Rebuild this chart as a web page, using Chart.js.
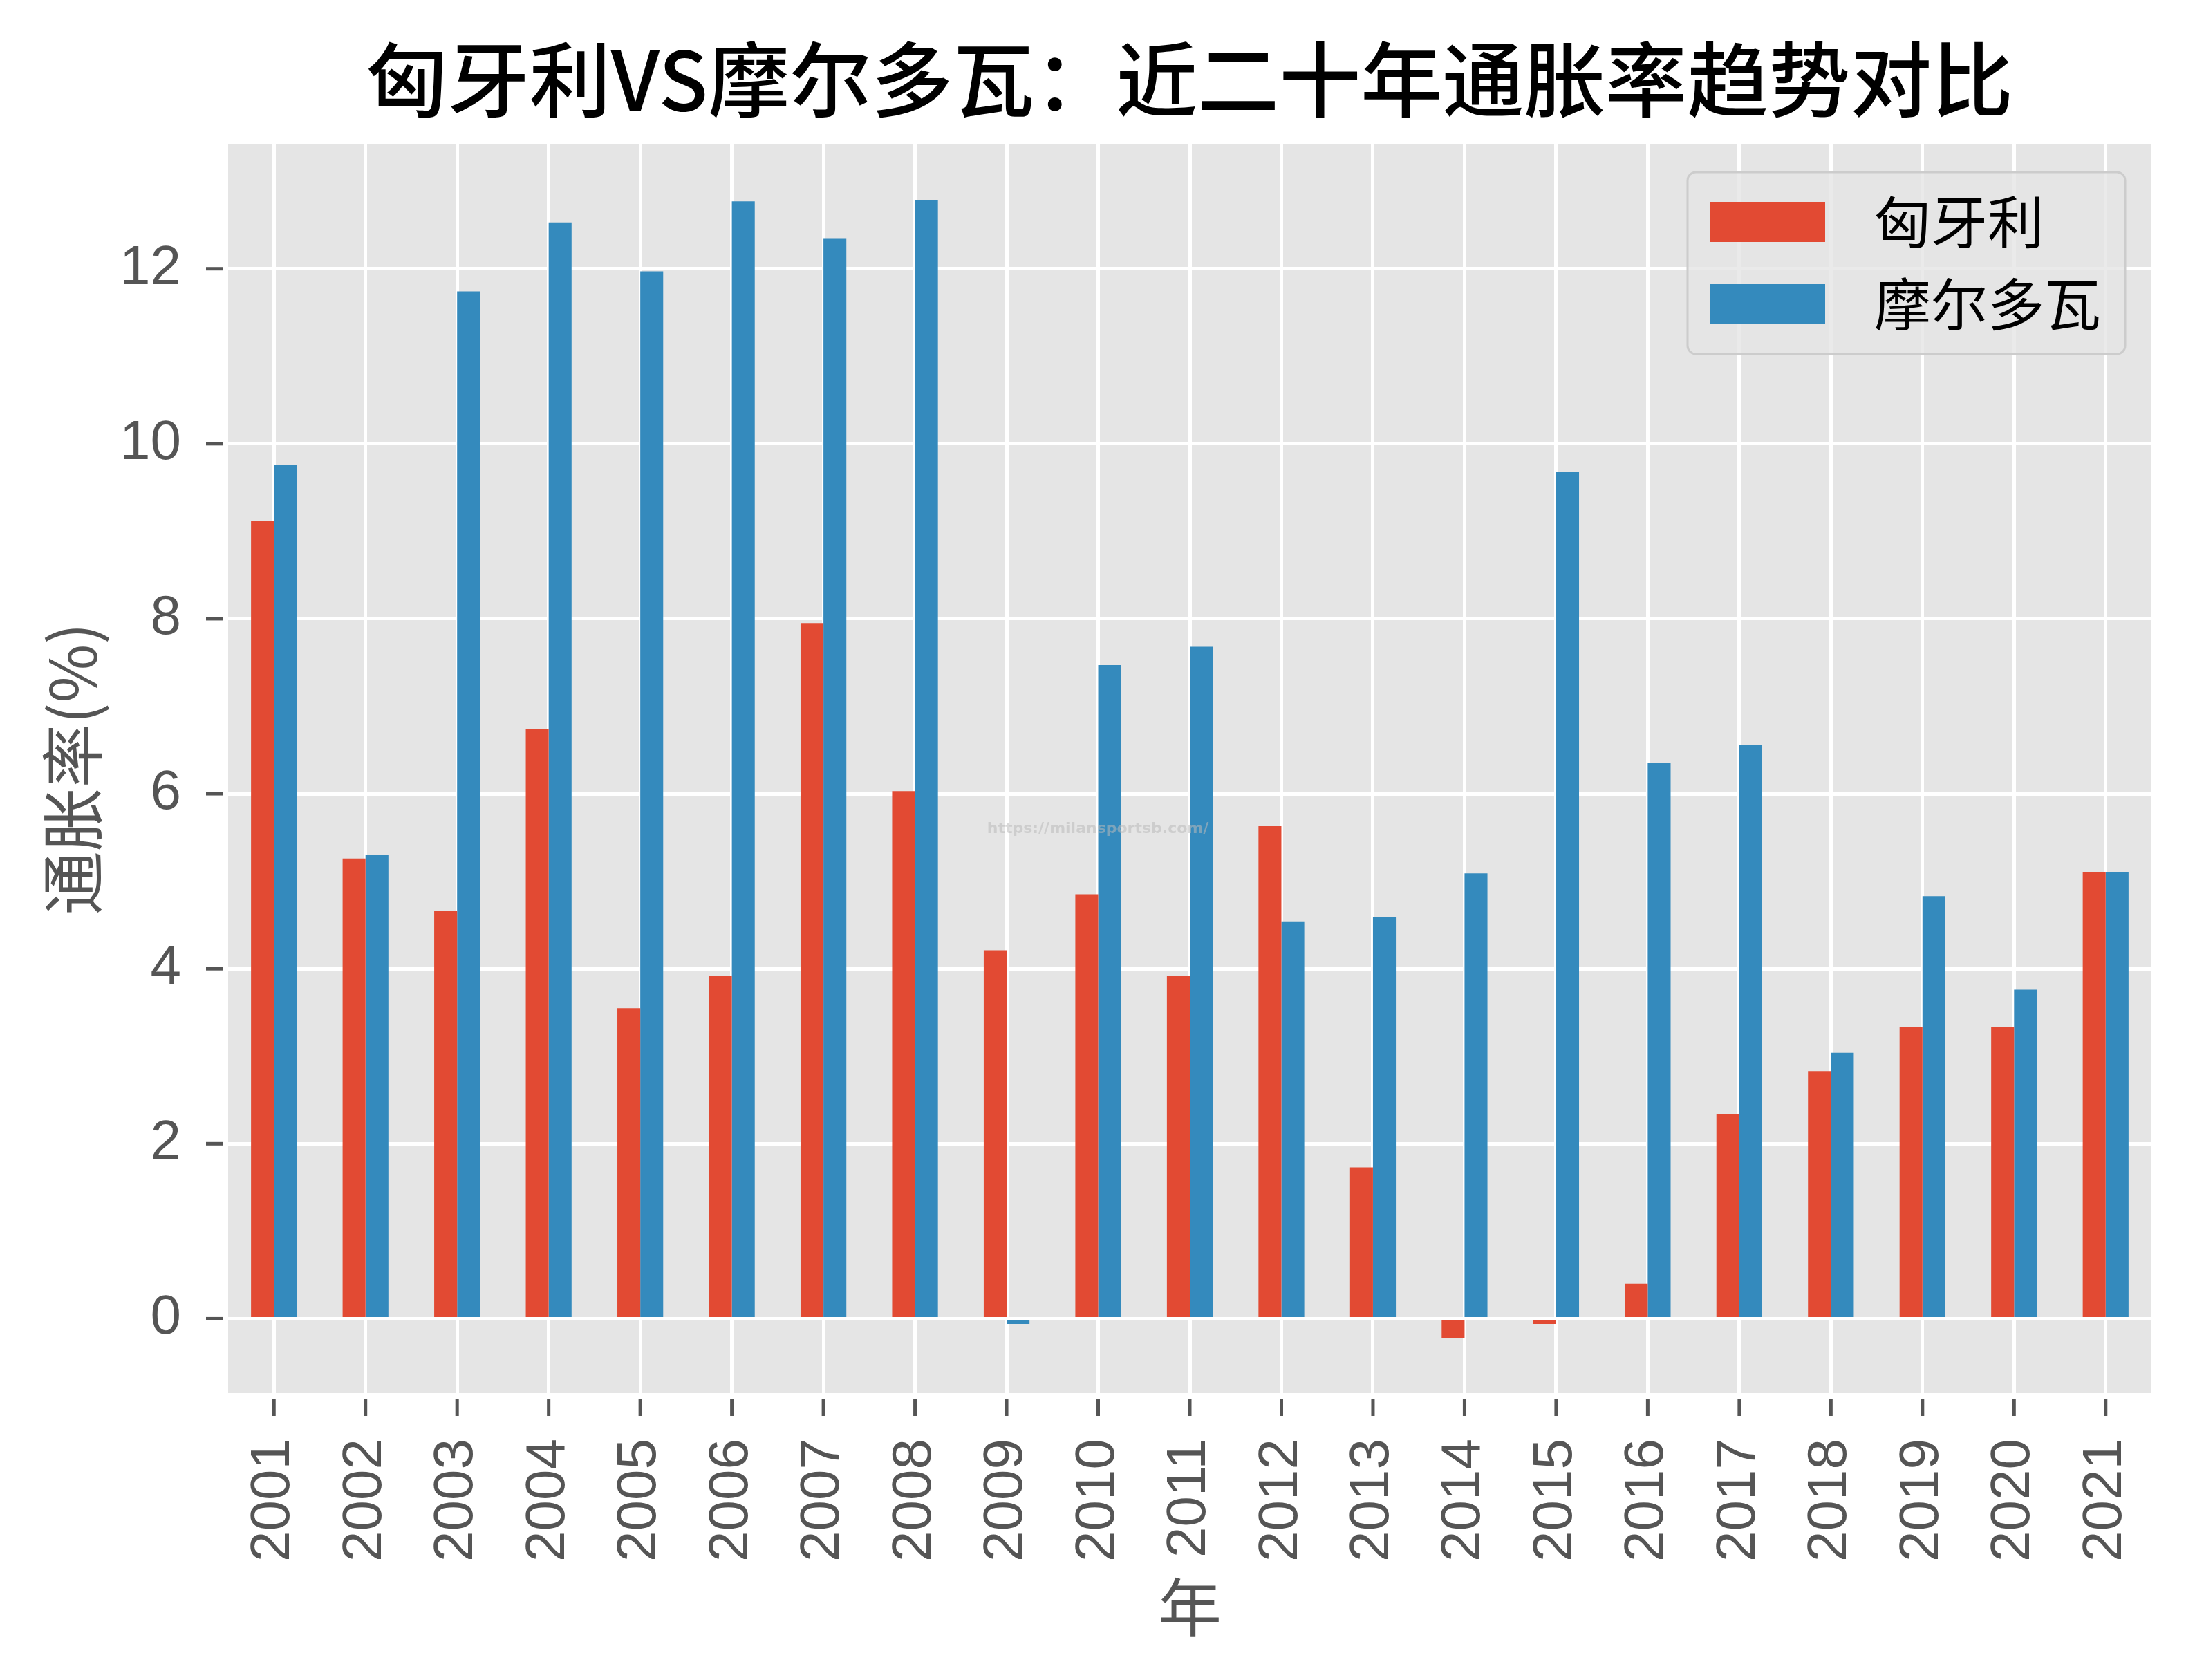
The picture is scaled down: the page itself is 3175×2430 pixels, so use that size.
<!DOCTYPE html>
<html>
<head>
<meta charset="utf-8">
<script src="https://cdn.jsdelivr.net/npm/chart.js@4.4.0/dist/chart.umd.min.js"></script>
<style>
html, body { margin: 0; padding: 0; background: #fff; overflow: hidden; }
canvas { display: block; }
</style>
</head>
<body>
<canvas id="myChart" width="3175" height="2430"></canvas>
<script>
let years = ['2001', '2002', '2003', '2004', '2005', '2006', '2007', '2008', '2009', '2010', '2011',
             '2012', '2013', '2014', '2015', '2016', '2017', '2018', '2019', '2020', '2021'];
let hungary = [9.12, 5.26, 4.66, 6.74, 3.55, 3.92, 7.95, 6.03, 4.21, 4.85, 3.92,
               5.63, 1.73, -0.22, -0.06, 0.40, 2.34, 2.83, 3.33, 3.33, 5.10];
let moldova = [9.76, 5.30, 11.74, 12.53, 11.97, 12.77, 12.35, 12.78, -0.06, 7.47, 7.68,
               4.54, 4.59, 5.09, 9.68, 6.35, 6.56, 3.04, 4.83, 3.76, 5.10];
let seriesNames = ['匈牙利', '摩尔多瓦'];
let colors = ['#E24A33', '#348ABD'];

let titleText = '匈牙利VS摩尔多瓦：近二十年通胀率趋势对比';
let cjk = "'Noto Sans CJK SC', 'Noto Sans', sans-serif";
let narrow = "'Liberation Sans Narrow', 'Liberation Sans', sans-serif";

// background, tick marks, title, legend, watermark
let decor = {
    id: 'decor',
    beforeDraw(chart) {
        let ctx = chart.ctx, a = chart.chartArea;
        ctx.save();
        ctx.fillStyle = '#ffffff';
        ctx.fillRect(0, 0, chart.width, chart.height);
        ctx.fillStyle = '#E5E5E5';
        ctx.fillRect(a.left, a.top, a.right - a.left, a.bottom - a.top);
        ctx.restore();
    },
    afterDraw(chart) {
        let ctx = chart.ctx, a = chart.chartArea;
        let xs = chart.scales.x, ys = chart.scales.y;
        ctx.save();
        ctx.strokeStyle = '#555555';
        ctx.lineWidth = 5;
        xs.ticks.forEach(function(t, i) {
            let px = xs.getPixelForTick(i);
            ctx.beginPath();
            ctx.moveTo(px, a.bottom + 8);
            ctx.lineTo(px, a.bottom + 33);
            ctx.stroke();
        });
        ys.ticks.forEach(function(t, i) {
            let py = ys.getPixelForTick(i);
            ctx.beginPath();
            ctx.moveTo(a.left - 8, py);
            ctx.lineTo(a.left - 32, py);
            ctx.stroke();
        });

        // title
        ctx.fillStyle = '#000000';
        ctx.font = '500 118px ' + cjk;
        ctx.textAlign = 'center';
        ctx.textBaseline = 'middle';
        ctx.fillText(titleText, (a.left + a.right) / 2, 115);

        // legend
        let bx = 2441, by = 249, bw = 633, bh = 263;
        ctx.fillStyle = 'rgba(229,229,229,0.8)';
        ctx.strokeStyle = '#CCCCCC';
        ctx.lineWidth = 3;
        ctx.beginPath();
        ctx.roundRect(bx, by, bw, bh, 12);
        ctx.fill();
        ctx.stroke();
        ctx.textAlign = 'left';
        ctx.font = '82px ' + cjk;
        chart.data.datasets.forEach(function(ds, i) {
            let cy = 321 + i * 119;
            ctx.fillStyle = ds.backgroundColor;
            ctx.fillRect(2474, cy - 29, 166, 58);
            ctx.fillStyle = '#000000';
            ctx.fillText(ds.label, 2711, cy);
        });

        // watermark
        ctx.font = 'bold 22px ' + "'DejaVu Sans', sans-serif";
        ctx.textAlign = 'center';
        ctx.fillStyle = 'rgba(185,185,185,0.55)';
        ctx.fillText('https://milansportsb.com/', 1588, 1199);
        ctx.restore();
    }
};

let myChart = document.getElementById('myChart').getContext('2d');

let chart = new Chart(myChart, {
    type: 'bar',
    data: {
        labels: years,
        datasets: [{
            label: seriesNames[0],
            data: hungary,
            backgroundColor: colors[0],
            categoryPercentage: 0.5,
            barPercentage: 1.0
        }, {
            label: seriesNames[1],
            data: moldova,
            backgroundColor: colors[1],
            categoryPercentage: 0.5,
            barPercentage: 1.0
        }]
    },
    options: {
        responsive: false,
        animation: false,
        devicePixelRatio: 1,
        layout: { padding: { top: 209, right: 63, left: 0, bottom: 0 } },
        plugins: {
            legend: { display: false },
            title: { display: false },
            tooltip: { enabled: false }
        },
        scales: {
            x: {
                offset: true,
                grid: { offset: false, color: '#ffffff', lineWidth: 5, drawTicks: false },
                border: { display: false },
                ticks: {
                    autoSkip: false,
                    maxRotation: 90,
                    minRotation: 90,
                    padding: 66,
                    color: '#555555',
                    font: { family: narrow, size: 80 }
                },
                title: {
                    display: true,
                    text: '年',
                    color: '#555555',
                    font: { family: cjk, size: 92 },
                    padding: { top: 0, bottom: 50 }
                },
                afterFit: function(scale) {
                    scale.height = 415;
                    scale.paddingLeft = 0;
                    scale.paddingRight = 0;
                }
            },
            y: {
                min: -0.85,
                max: 13.42,
                grid: { color: '#ffffff', lineWidth: 5, drawTicks: false },
                border: { display: false },
                ticks: {
                    stepSize: 2,
                    includeBounds: false,
                    padding: 68,
                    color: '#555555',
                    font: { family: narrow, size: 80 }
                },
                title: {
                    display: true,
                    text: '通胀率(%)',
                    color: '#555555',
                    font: { family: cjk, size: 92 },
                    padding: { top: 50, bottom: 0 }
                },
                afterFit: function(scale) {
                    scale.width = 330;
                    scale.paddingTop = 0;
                    scale.paddingBottom = 0;
                }
            }
        }
    },
    plugins: [decor]
});
</script>
</body>
</html>
